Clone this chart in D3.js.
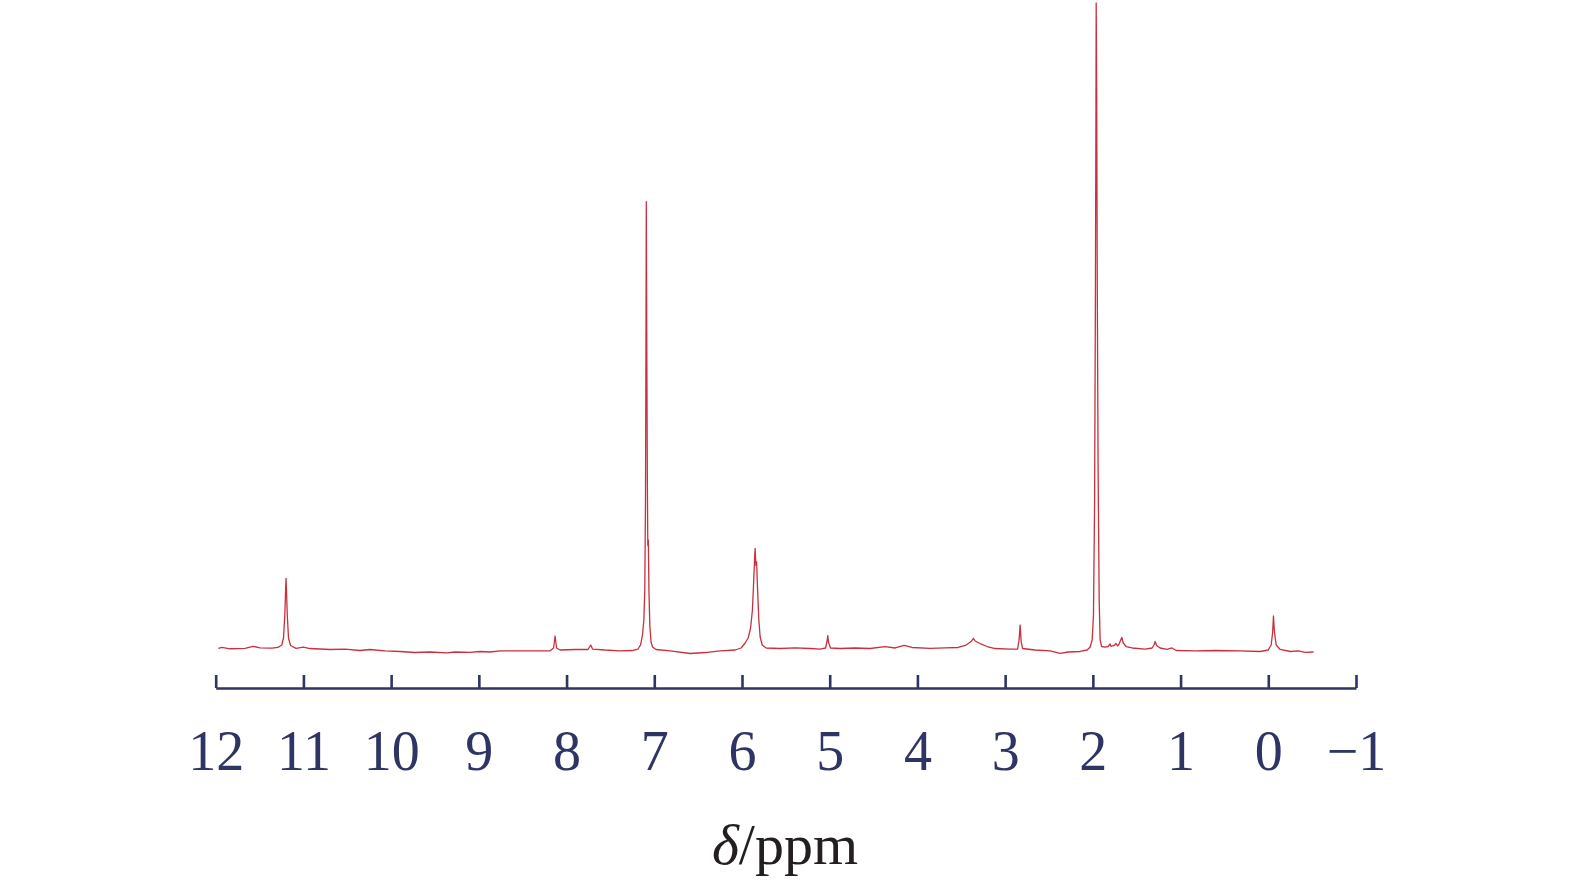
<!DOCTYPE html>
<html>
<head>
<meta charset="utf-8">
<script src="https://cdn.jsdelivr.net/npm/d3@7"></script>
<style>
  html, body { margin: 0; padding: 0; background: #ffffff; }
  svg { display: block; }
</style>
</head>
<body>
<svg id="chart" width="1575" height="889"></svg>
<script>
// Chemical shift (ppm) of each traced point of the spectrum
const shiftPpm = [
  11.970, 11.928, 11.837, 11.666, 11.575, 11.495, 11.358, 11.290, 11.247, 11.227,
  11.212, 11.203, 11.198, 11.193, 11.184, 11.170, 11.147, 11.084, 11.001, 10.925,
  10.697, 10.526, 10.355, 10.241, 10.070, 9.899, 9.727, 9.556, 9.366, 9.271,
  9.100, 8.986, 8.872, 8.758, 8.530, 8.302, 8.188, 8.148, 8.131, 8.114,
  8.074, 7.903, 7.755, 7.724, 7.704, 7.561, 7.390, 7.254, 7.185, 7.157,
  7.134, 7.119, 7.108, 7.100, 7.095, 7.091, 7.086, 7.079, 7.074, 7.068,
  7.061, 7.051, 7.037, 7.020, 6.980, 6.820, 6.592, 6.421, 6.250, 6.078,
  6.010, 5.964, 5.930, 5.902, 5.881, 5.866, 5.856, 5.850, 5.842, 5.833,
  5.822, 5.808, 5.793, 5.770, 5.725, 5.565, 5.394, 5.223, 5.109, 5.047,
  5.030, 5.022, 5.012, 4.990, 4.882, 4.711, 4.540, 4.369, 4.254, 4.152,
  4.061, 3.856, 3.685, 3.536, 3.445, 3.388, 3.362, 3.342, 3.285, 3.206,
  3.114, 2.943, 2.858, 2.841, 2.829, 2.818, 2.801, 2.658, 2.487, 2.373,
  2.282, 2.145, 2.065, 2.031, 2.008, 1.993, 1.980, 1.971, 1.965, 1.962,
  1.956, 1.949, 1.940, 1.928, 1.917, 1.900, 1.860, 1.826, 1.803, 1.792,
  1.758, 1.735, 1.717, 1.700, 1.683, 1.669, 1.654, 1.620, 1.552, 1.404,
  1.324, 1.301, 1.290, 1.273, 1.233, 1.153, 1.099, 1.050, 0.833, 0.605,
  0.320, 0.092, 0.001, -0.033, -0.050, -0.059, -0.070, -0.090, -0.136, -0.250,
  -0.342, -0.422, -0.516
];
// Relative intensity (tallest peak = 100) of each traced point
const intensity = [
  0.26, 0.39, 0.19, 0.26, 0.57, 0.34, 0.28, 0.39, 0.77, 1.85,
  5.41, 9.27, 11.08, 9.27, 5.41, 1.85, 0.70, 0.26, 0.46, 0.23,
  0.08, 0.15, -0.08, 0.08, -0.15, -0.23, -0.39, -0.31, -0.46, -0.31,
  -0.36, -0.23, -0.31, -0.15, -0.12, -0.15, -0.12, 0.31, 2.16, 0.31,
  0.00, 0.08, 0.08, 0.77, 0.15, 0.00, -0.12, -0.08, 0.15, 0.77,
  2.32, 4.64, 9.27, 23.2, 46.4, 69.3, 49.5, 26.3, 16.2, 17.0,
  9.27, 3.86, 1.24, 0.46, 0.08, -0.15, -0.54, -0.39, -0.15, 0.00,
  0.31, 1.08, 1.85, 3.40, 6.18, 10.82, 14.2, 15.72, 13.1, 13.6,
  9.27, 4.64, 2.01, 0.77, 0.31, 0.23, 0.34, 0.23, 0.15, 0.31,
  1.39, 2.21, 1.08, 0.31, 0.23, 0.31, 0.23, 0.51, 0.31, 0.73,
  0.39, 0.26, 0.34, 0.39, 0.77, 1.31, 1.81, 1.39, 1.00, 0.54,
  0.23, 0.15, 0.15, 1.55, 3.86, 1.39, 0.23, 0.00, -0.15, -0.51,
  -0.31, -0.23, 0.00, 0.46, 1.55, 5.41, 23.2, 54.1, 81.9, 100.0,
  85.0, 54.1, 27.8, 7.73, 1.55, 0.54, 0.46, 0.54, 0.93, 0.54,
  0.70, 1.00, 0.62, 0.93, 1.55, 1.93, 1.08, 0.54, 0.31, 0.15,
  0.31, 0.85, 1.31, 0.70, 0.31, 0.08, 0.31, -0.08, -0.15, -0.08,
  -0.15, -0.23, 0.00, 0.77, 2.78, 5.26, 2.78, 0.77, 0.08, -0.23,
  -0.15, -0.36, -0.31
];
// Tick values on the chemical shift axis
const tickValues = [12, 11, 10, 9, 8, 7, 6, 5, 4, 3, 2, 1, 0, -1];
const axisTitleItalic = "δ";
const axisTitleRest = "/ppm";

const svg = d3.select("#chart");
const x = d3.scaleLinear().domain([12, -1]).range([215.7, 1356]);
const y = d3.scaleLinear().domain([0, 100]).range([650, 3]);

const points = shiftPpm.map((p, i) => [p, intensity[i]]);

svg.append("path")
  .datum(points)
  .attr("fill", "none")
  .attr("stroke", "#c9303d")
  .attr("stroke-width", 1.3)
  .attr("stroke-linejoin", "round")
  .attr("d", d3.line().x(d => x(d[0])).y(d => y(d[1])));

const axis = d3.axisBottom(x)
  .tickValues(tickValues)
  .tickSizeInner(-13)
  .tickSizeOuter(0)
  .tickPadding(42)
  .tickFormat(d3.format("d"));

const gAxis = svg.append("g")
  .attr("transform", "translate(0,688)")
  .call(axis);

gAxis.select(".domain")
  .attr("stroke", "#2e3463")
  .attr("stroke-width", 2.6);
gAxis.selectAll(".tick line")
  .attr("stroke", "#2e3463")
  .attr("stroke-width", 2.6);
gAxis.selectAll(".tick text")
  .attr("fill", "#2e3463")
  .attr("font-family", "'Liberation Serif', 'Times New Roman', serif")
  .attr("font-size", 56);

const title = svg.append("text")
  .attr("x", 785)
  .attr("y", 864)
  .attr("text-anchor", "middle")
  .attr("font-family", "'Liberation Serif', 'Times New Roman', serif")
  .attr("font-size", 58)
  .attr("fill", "#231f20");
title.append("tspan").attr("font-style", "italic").text(axisTitleItalic);
title.append("tspan").text(axisTitleRest);
</script>
</body>
</html>
